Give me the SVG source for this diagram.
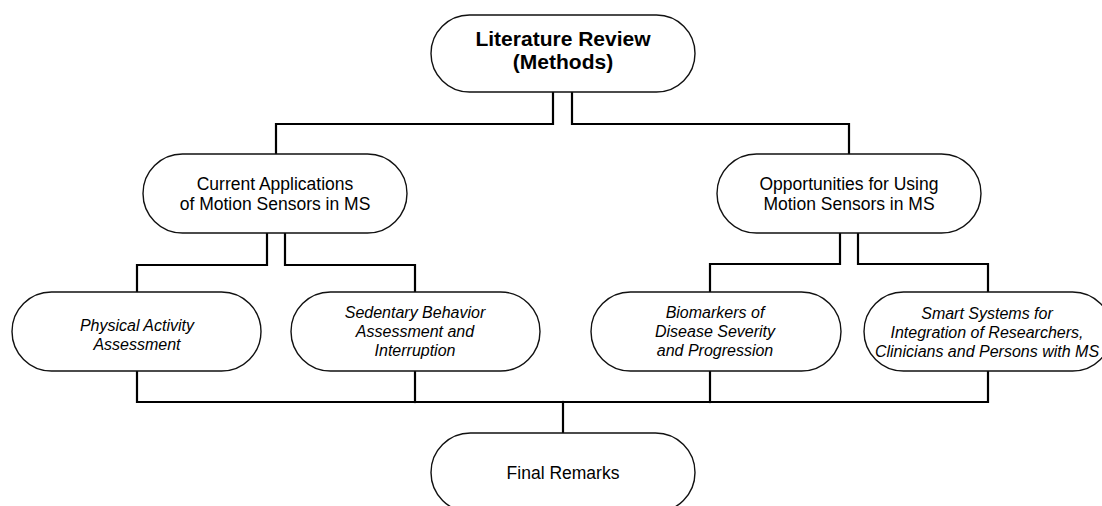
<svg xmlns="http://www.w3.org/2000/svg" width="1102" height="506" viewBox="0 0 1102 506">
<style>
.node{fill:#fff;stroke:#111;stroke-width:1.4}
.conn{fill:none;stroke:#000;stroke-width:2.2;stroke-linejoin:miter;stroke-linecap:square}
text{font-family:"Liberation Sans",Arial,sans-serif;fill:#000;text-anchor:middle}
.title{font-size:21px;font-weight:bold}
.reg{font-size:17.5px}
.it{font-size:16px;font-style:italic}
</style>
<rect width="1102" height="506" fill="#fff"/>
<g id="connectors">
<path class="conn" d="M553,92 V124 H276 V154"/>
<path class="conn" d="M572,92 V124 H849 V154"/>
<path class="conn" d="M267,233 V265 H137 V292"/>
<path class="conn" d="M285,233 V265 H415 V292"/>
<path class="conn" d="M840,233 V264 H710 V292"/>
<path class="conn" d="M858,233 V264 H988 V292"/>
<path class="conn" d="M137,371 V402 H988 V371"/>
<path class="conn" d="M415,371 V402"/>
<path class="conn" d="M710,371 V402"/>
<path class="conn" d="M563,402 V433"/>
</g>
<g id="literature-review">
<rect class="node" x="431" y="15" width="264" height="77" rx="38.5"/>
<text class="title" x="563" y="46">Literature Review</text>
<text class="title" x="563" y="69">(Methods)</text>
</g>
<g id="current-applications">
<rect class="node" x="143" y="154" width="264" height="79" rx="39.5"/>
<text class="reg" x="275" y="190">Current Applications</text>
<text class="reg" x="275" y="210">of Motion Sensors in MS</text>
</g>
<g id="opportunities">
<rect class="node" x="717" y="154" width="264" height="79" rx="39.5"/>
<text class="reg" x="849" y="190">Opportunities for Using</text>
<text class="reg" x="849" y="210">Motion Sensors in MS</text>
</g>
<g id="physical-activity">
<rect class="node" x="12" y="292" width="249" height="79" rx="39.5"/>
<text class="it" x="137" y="331">Physical Activity</text>
<text class="it" x="137" y="350">Assessment</text>
</g>
<g id="sedentary-behavior">
<rect class="node" x="291" y="292" width="249" height="79" rx="39.5"/>
<text class="it" x="415" y="318">Sedentary Behavior</text>
<text class="it" x="415" y="337">Assessment and</text>
<text class="it" x="415" y="356">Interruption</text>
</g>
<g id="biomarkers">
<rect class="node" x="591" y="292" width="250" height="79" rx="39.5"/>
<text class="it" x="715" y="318">Biomarkers of</text>
<text class="it" x="715" y="337">Disease Severity</text>
<text class="it" x="715" y="356">and Progression</text>
</g>
<g id="smart-systems">
<rect class="node" x="864" y="292" width="248" height="79" rx="39.5"/>
<text class="it" x="987" y="319">Smart Systems for</text>
<text class="it" x="987" y="338">Integration of Researchers,</text>
<text class="it" x="987" y="357">Clinicians and Persons with MS</text>
</g>
<g id="final-remarks">
<rect class="node" x="431" y="433" width="264" height="79" rx="39.5"/>
<text class="reg" x="563" y="479">Final Remarks</text>
</g>
</svg>
